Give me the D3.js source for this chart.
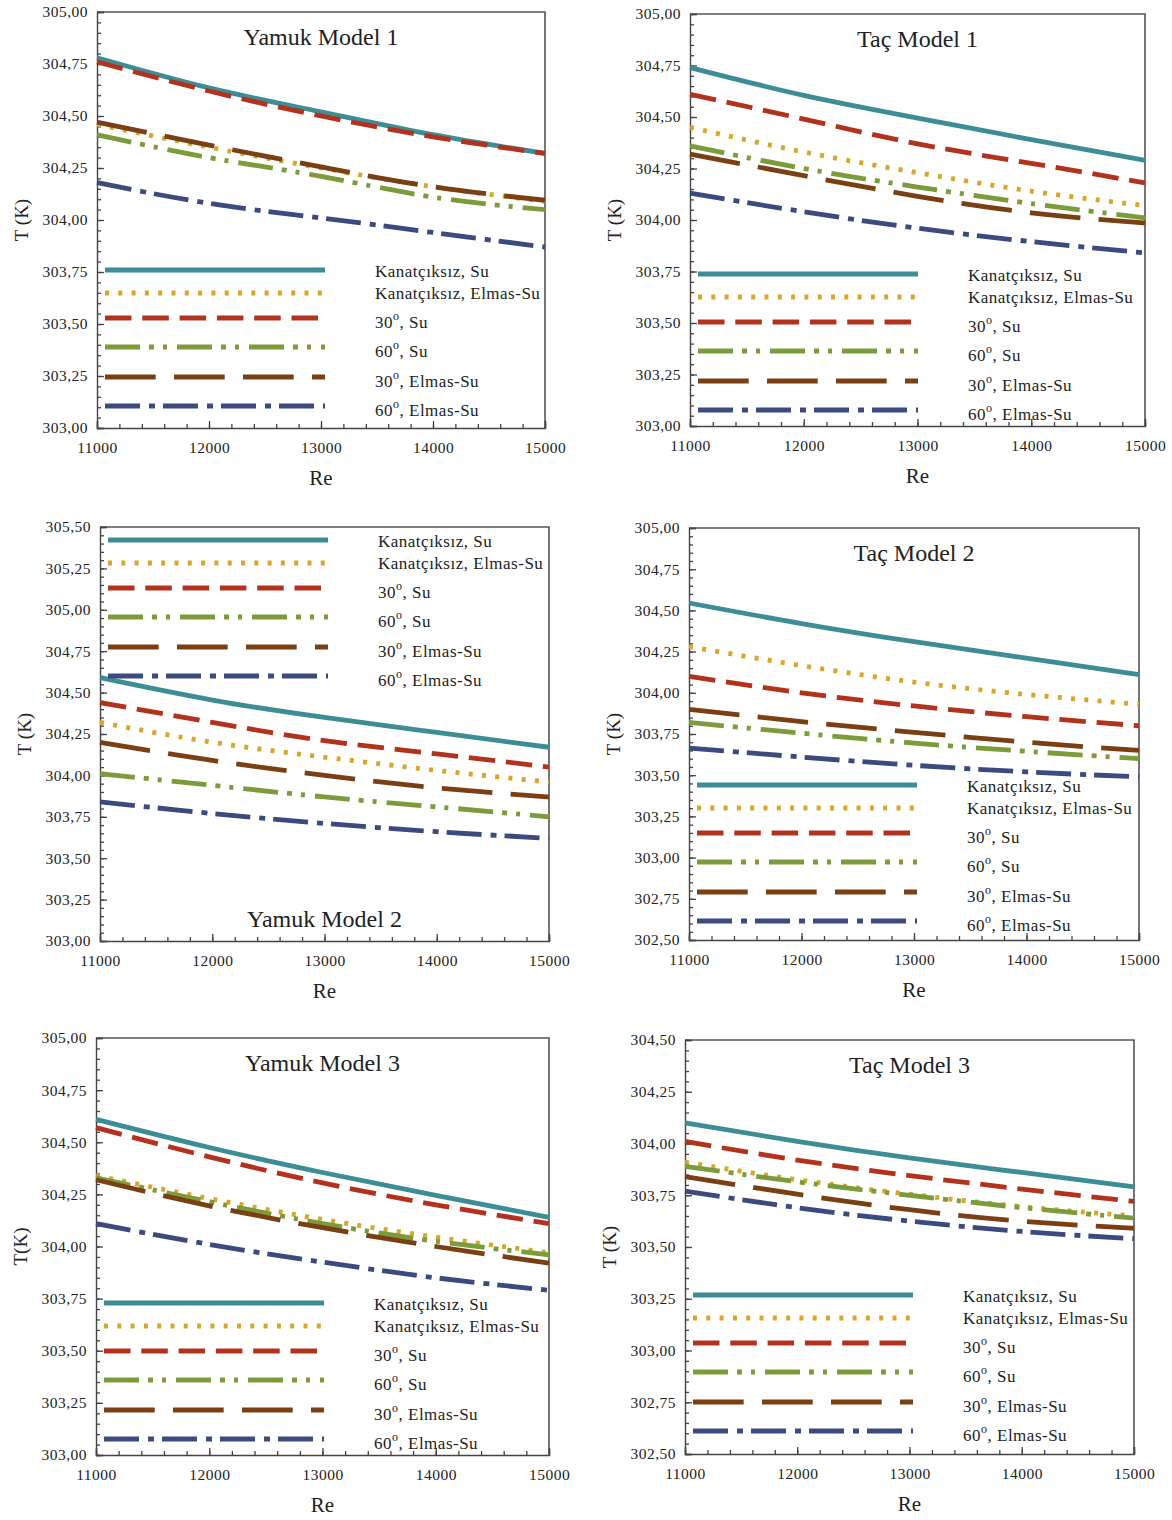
<!DOCTYPE html>
<html lang="tr">
<head>
<meta charset="UTF-8">
<title>T - Re</title>
<script src="https://cdn.jsdelivr.net/npm/d3@7"></script>
<style>
  body { margin: 0; background: #fff; }
  svg text { font-family: "Liberation Serif", "Times New Roman", serif; fill: #222; }
</style>
</head>
<body>
<svg id="chart" width="1172" height="1520"></svg>
<script>
// Re values
const reValues = [11000, 12000, 13000, 14000, 15000];
const xTicks = [11000, 12000, 13000, 14000, 15000];

// legend labels, same order as rows in every data table below
const seriesLabels = ["Kanatçıksız, Su", "Kanatçıksız, Elmas-Su", "30°, Su", "60°, Su", "30°, Elmas-Su", "60°, Elmas-Su"];

// T (K) per series, one row per label above
const yamuk1 = [
  [304.78, 304.635, 304.52, 304.41, 304.32],
  [304.46, 304.35, 304.25, 304.16, 304.09],
  [304.76, 304.62, 304.50, 304.40, 304.32],
  [304.41, 304.30, 304.21, 304.11, 304.05],
  [304.47, 304.36, 304.255, 304.16, 304.095],
  [304.18, 304.08, 304.01, 303.94, 303.87]
];
const tac1 = [
  [304.74, 304.605, 304.495, 304.39, 304.29],
  [304.45, 304.33, 304.23, 304.14, 304.07],
  [304.61, 304.49, 304.37, 304.275, 304.18],
  [304.36, 304.25, 304.16, 304.08, 304.01],
  [304.32, 304.215, 304.115, 304.035, 303.985],
  [304.13, 304.04, 303.96, 303.895, 303.84]
];
const yamuk2 = [
  [304.59, 304.455, 304.35, 304.26, 304.17],
  [304.32, 304.20, 304.11, 304.03, 303.96],
  [304.44, 304.32, 304.21, 304.13, 304.05],
  [304.01, 303.94, 303.87, 303.81, 303.75],
  [304.20, 304.09, 304.00, 303.925, 303.87],
  [303.84, 303.77, 303.71, 303.66, 303.62]
];
const tac2 = [
  [304.545, 304.42, 304.31, 304.21, 304.11],
  [304.28, 304.165, 304.065, 303.99, 303.93],
  [304.10, 304.00, 303.92, 303.855, 303.80],
  [303.82, 303.755, 303.695, 303.645, 303.60],
  [303.90, 303.825, 303.76, 303.70, 303.65],
  [303.665, 303.61, 303.56, 303.52, 303.49]
];
const yamuk3 = [
  [304.61, 304.475, 304.355, 304.245, 304.14],
  [304.34, 304.23, 304.13, 304.045, 303.97],
  [304.57, 304.43, 304.305, 304.20, 304.11],
  [304.33, 304.215, 304.11, 304.025, 303.96],
  [304.32, 304.195, 304.09, 304.00, 303.92],
  [304.11, 304.01, 303.925, 303.85, 303.79]
];
const tac3 = [
  [304.10, 304.01, 303.93, 303.86, 303.79],
  [303.91, 303.825, 303.755, 303.695, 303.65],
  [304.01, 303.92, 303.845, 303.78, 303.72],
  [303.89, 303.815, 303.75, 303.69, 303.64],
  [303.84, 303.755, 303.68, 303.625, 303.59],
  [303.77, 303.69, 303.625, 303.575, 303.54]
];

// line styles
const colors = ["#3d8d97", "#d8a62c", "#b3321d", "#7c9b3b", "#7b3f14", "#3c4a7e"];
const dashes = [null, "4,9.3", "26.5,10.8", "35,9,5,9,4,10", "50.7,18.3", "35,9,6,8"];

// panels: plot box in px, y range, title
const panels = [
  {data: yamuk1, title: "Yamuk Model 1", titleAt: "top", y: [303, 305], ylab: "T (K)", box: [97, 12, 545, 428], leg: 258},
  {data: tac1, title: "Taç Model 1", titleAt: "top", y: [303, 305], ylab: "T (K)", box: [690, 14, 1145, 426], leg: 260},
  {data: yamuk2, title: "Yamuk Model 2", titleAt: "bottom", y: [303, 305.5], ylab: "T (K)", box: [100, 527, 549, 941], leg: 13},
  {data: tac2, title: "Taç Model 2", titleAt: "top", y: [302.5, 305], ylab: "T (K)", box: [689, 528, 1139, 940], leg: 257},
  {data: yamuk3, title: "Yamuk Model 3", titleAt: "top", y: [303, 305], ylab: "T(K)", box: [96, 1038, 549, 1455], leg: 265},
  {data: tac3, title: "Taç Model 3", titleAt: "top", y: [302.5, 304.5], ylab: "T (K)", box: [685, 1040, 1134, 1454], leg: 255}
];
const legRows = [0, 23, 48, 77, 107, 136];
const legTextDy = [7, 6, 10, 10, 10, 10];

const svg = d3.select("#chart");
const fmtY = d => d3.format(".2f")(d).replace(".", ",");

panels.forEach(function(p) {
  const [x0, y0, x1, y1] = p.box;
  const x = d3.scaleLinear().domain([11000, 15000]).range([x0, x1]);
  const y = d3.scaleLinear().domain(p.y).range([y1, y0]);
  const g = svg.append("g");

  // frame (top + right)
  g.append("path")
    .attr("d", `M${x0},${y0}H${x1}V${y1}`)
    .attr("fill", "none").attr("stroke", "#555").attr("stroke-width", 1.6);

  // minor ticks
  const xMinor = d3.range(11000, 15001, 200);
  const yMinor = d3.range(Math.round(p.y[0] * 20), Math.round(p.y[1] * 20) + 1).map(v => v / 20);
  const yMajor = d3.range(Math.round(p.y[0] * 4), Math.round(p.y[1] * 4) + 1).map(v => v / 4);
  g.append("g").attr("transform", `translate(0,${y1})`)
    .call(d3.axisBottom(x).tickValues(xMinor).tickSize(-4).tickFormat(""))
    .call(a => a.select(".domain").remove());
  g.append("g").attr("transform", `translate(${x0},0)`)
    .call(d3.axisLeft(y).tickValues(yMinor).tickSize(-4).tickFormat(""))
    .call(a => a.select(".domain").remove());

  // major axes
  const xa = g.append("g").attr("transform", `translate(0,${y1})`)
    .call(d3.axisBottom(x).tickValues(xTicks).tickSize(-7).tickPadding(14).tickFormat(d3.format("d")));
  const ya = g.append("g").attr("transform", `translate(${x0},0)`)
    .call(d3.axisLeft(y).tickValues(yMajor).tickSize(-7).tickPadding(9).tickFormat(fmtY));
  [xa, ya].forEach(a => {
    a.selectAll("path, line").attr("stroke", "#444").attr("stroke-width", 1.4);
    a.selectAll("text").style("font-family", '"Liberation Serif", serif').style("font-size", "15.5px")
      .attr("fill", "#333").style("letter-spacing", "0.5px");
  });
  g.selectAll(".tick line").attr("stroke", "#444").attr("stroke-width", 1.3);

  // series
  const line = d3.line().x((d, i) => x(reValues[i])).y(d => y(d)).curve(d3.curveNatural);
  p.data.forEach(function(vals, s) {
    g.append("path").datum(vals)
      .attr("d", line)
      .attr("fill", "none")
      .attr("stroke", colors[s])
      .attr("stroke-width", 4.8)
      .attr("stroke-dasharray", dashes[s]);
  });

  // legend
  const lg = g.append("g");
  seriesLabels.forEach(function(lab, s) {
    const ly = y0 + p.leg + legRows[s];
    lg.append("line")
      .attr("x1", x0 + 8).attr("x2", x0 + 228)
      .attr("y1", ly).attr("y2", ly)
      .attr("stroke", colors[s]).attr("stroke-width", 4.8)
      .attr("stroke-dasharray", dashes[s]);
    const t = lg.append("text").attr("x", x0 + 278).attr("y", ly + legTextDy[s])
      .style("font-size", "17px").style("letter-spacing", "0.5px");
    const parts = lab.split("°");
    if (parts.length > 1) {
      t.append("tspan").text(parts[0]);
      t.append("tspan").attr("dy", -8).style("font-size", "12px").text("o");
      t.append("tspan").attr("dy", 8).text(parts[1]);
    } else {
      t.text(lab);
    }
  });

  // title
  g.append("text")
    .attr("x", (x0 + x1) / 2)
    .attr("y", p.titleAt === "top" ? y0 + 33 : y1 - 14)
    .attr("text-anchor", "middle")
    .style("font-size", "24px")
    .text(p.title);

  // axis titles
  g.append("text")
    .attr("x", (x0 + x1) / 2).attr("y", y1 + 57)
    .attr("text-anchor", "middle").style("font-size", "21px")
    .text("Re");
  g.append("text")
    .attr("transform", `translate(${x0 - 69},${(y0 + y1) / 2}) rotate(-90)`)
    .attr("text-anchor", "middle").style("font-size", "19px")
    .text(p.ylab);
});
</script>
</body>
</html>
